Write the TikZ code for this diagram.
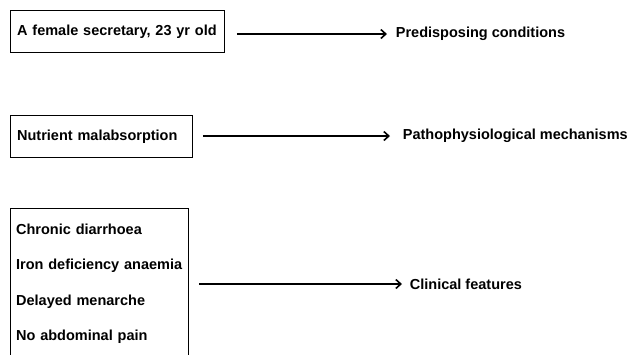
\documentclass[tikz,border=0pt]{standalone}
\usepackage{fontspec}
\setmainfont{Liberation Sans}
\usepackage{tikz}
\usetikzlibrary{arrows.meta, positioning}

\begin{document}
\begin{tikzpicture}[x=1pt, y=-1pt,
				>={Straight Barb[length=5pt, width=9pt, line width=1.6pt]},
				line width=1.8pt,
				box/.style={draw, line width=1.3pt, inner xsep=7pt, align=left,
					font=\fontsize{14.5}{35.5}\selectfont\bfseries},
				lbl/.style={anchor=west, inner sep=0pt, font=\fontsize{14.5}{17}\selectfont\bfseries}]
				
				\clip (0,0) rectangle (630,354);
				\node[box, anchor=north west, text width=200pt, minimum height=42.5pt] (sec) at (9.5,9.5) {A female secretary, 23 yr old};
				\node[box, anchor=north west, text width=168pt, minimum height=42pt] (nut) at (9.5,115) {Nutrient malabsorption};
				\node[box, anchor=north west, text width=166.5pt, inner xsep=6pt, inner ysep=15pt] (sym) at (9.5,208) {Chronic diarrhoea\\Iron deficiency anaemia\\Delayed menarche\\No abdominal pain};
				\node[lbl] (pre) at (395,34) {Predisposing conditions};
				\node[lbl] (mech) at (402,136) {Pathophysiological mechanisms};
				\node[lbl] (clin) at (409,284) {Clinical features};
				\draw[->] ([xshift=12pt]sec.east |- pre.west) -- ([xshift=-8pt]pre.west);
				\draw[->] ([xshift=10pt]nut.east |- mech.west) -- ([xshift=-12pt]mech.west);
				\draw[->] ([xshift=10pt]sym.east |- clin.west) -- ([xshift=-7pt]clin.west);
			\end{tikzpicture}
\end{document}
